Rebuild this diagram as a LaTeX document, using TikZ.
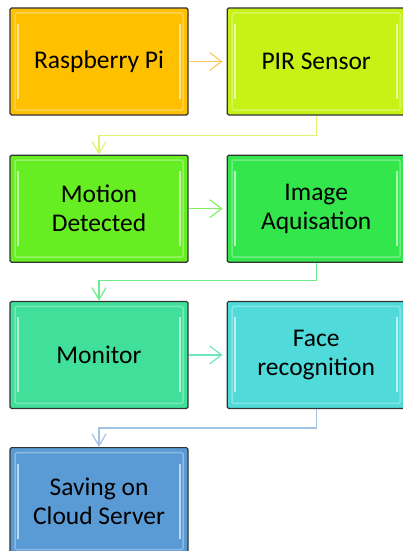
\documentclass[tikz,border=0pt]{standalone}
\usepackage{fontspec}
\setmainfont{Carlito}
\usetikzlibrary{positioning,arrows.meta}

\definecolor{rpiFill}{HTML}{FFC000}
\definecolor{pirFill}{HTML}{C7F216}
\definecolor{motionFill}{HTML}{66EE22}
\definecolor{imageFill}{HTML}{33E64C}
\definecolor{monitorFill}{HTML}{40DF9A}
\definecolor{faceFill}{HTML}{50DADA}
\definecolor{cloudFill}{HTML}{5B9BD5}
\definecolor{rpiLink}{RGB}{255,200,90}
\definecolor{pirLink}{RGB}{218,245,110}
\definecolor{motionLink}{RGB}{130,240,100}
\definecolor{imageLink}{RGB}{110,236,140}
\definecolor{monitorLink}{RGB}{110,230,190}
\definecolor{faceLink}{RGB}{160,195,230}

\tikzset{
  stagebox/.style={draw=black!80, line width=1.2pt, rounded corners=1.5pt,
    minimum width=178pt, minimum height=107pt, align=center,
    font=\fontsize{25.5}{29}\selectfont, fill=#1,
    path picture={
      \draw[white, opacity=0.3, line width=1.5pt]
        ([shift={(5pt,5pt)}]path picture bounding box.south west)
        rectangle ([shift={(-5pt,-5pt)}]path picture bounding box.north east);
      \draw[white, opacity=0.6, line width=2.5pt]
        ([shift={(8pt,16pt)}]path picture bounding box.south west)
        -- ([shift={(8pt,-16pt)}]path picture bounding box.north west);
      \draw[white, opacity=0.6, line width=2.5pt]
        ([shift={(-8pt,16pt)}]path picture bounding box.south east)
        -- ([shift={(-8pt,-16pt)}]path picture bounding box.north east);
    }},
  link/.style={draw=#1, line width=1.2pt, shorten >=4pt,
    -{Straight Barb[length=12pt, width=18pt, line width=1.2pt]}},
  elbow/.style={draw=#1, line width=1.2pt,
    -{Straight Barb[length=12pt, width=14pt, line width=1.2pt]}}
}

\begin{document}
\begin{tikzpicture}[x=1pt, y=1pt, node distance=38pt and 38pt]
  \useasboundingbox (0,0) rectangle (403,-551);

  % stages
  \node[stagebox=rpiFill] (rpi) at (99,-61.5) {Raspberry Pi};
  \node[stagebox=pirFill, right=of rpi] (pir) {PIR Sensor};
  \node[stagebox=motionFill, below=39pt of rpi] (motion) {Motion\\Detected};
  \node[stagebox=imageFill, right=of motion] (image) {Image\\Aquisation};
  \node[stagebox=monitorFill, below=38pt of motion] (monitor) {Monitor};
  \node[stagebox=faceFill, right=of monitor] (face) {Face\\recognition};
  \node[stagebox=cloudFill, below=38pt of monitor] (cloud) {Saving on\\Cloud Server};

  % flow
  \draw[link=rpiLink] (rpi) -- (pir);
  \draw[elbow=pirLink] (pir.south) -- ++(0,-20pt) -| (motion.north);
  \draw[link=motionLink] (motion) -- (image);
  \draw[elbow=imageLink] (image.south) -- ++(0,-18pt) -| (monitor.north);
  \draw[link=monitorLink] (monitor) -- (face);
  \draw[elbow=faceLink] (face.south) -- ++(0,-19pt) -| (cloud.north);
\end{tikzpicture}
\end{document}
